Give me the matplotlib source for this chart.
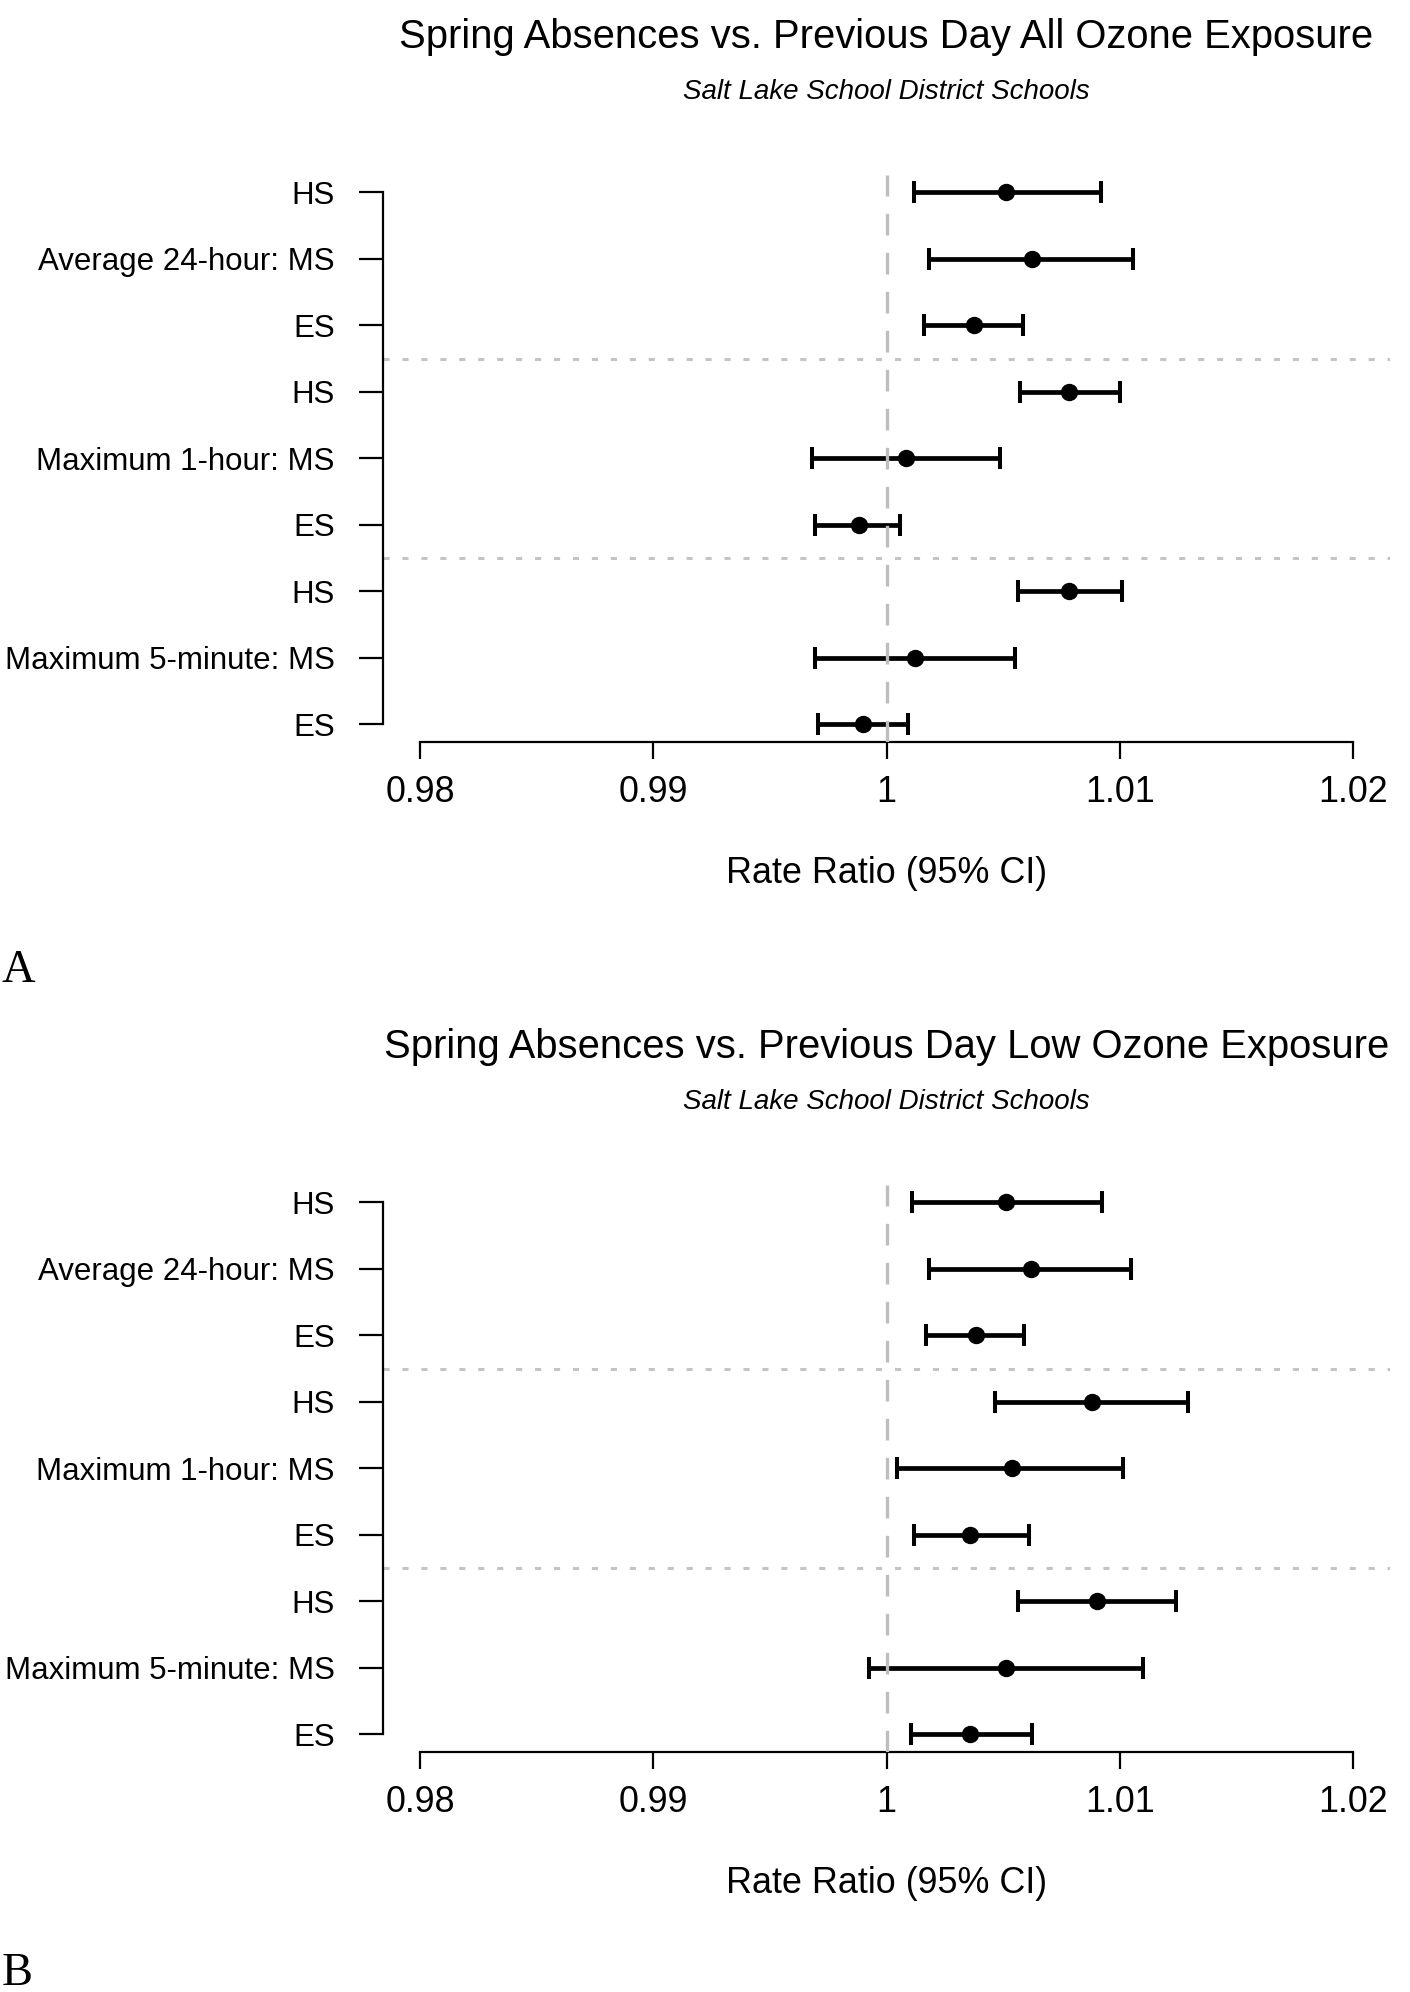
import matplotlib
matplotlib.use("Agg")
import matplotlib.pyplot as plt
import numpy as np

plt.rcParams['font.family'] = ['Liberation Sans', 'DejaVu Sans']

# ---------------- data ----------------
row_labels = ["HS", "Average 24-hour: MS", "ES",
              "HS", "Maximum 1-hour: MS", "ES",
              "HS", "Maximum 5-minute: MS", "ES"]
x_ticks = [0.98, 0.99, 1.00, 1.01, 1.02]
x_tick_labels = ["0.98", "0.99", "1", "1.01", "1.02"]

titles = ["Spring Absences vs. Previous Day All Ozone Exposure",
          "Spring Absences vs. Previous Day Low Ozone Exposure"]
subtitle = "Salt Lake School District Schools"
x_label = "Rate Ratio (95% CI)"
panel_letters = ["A", "B"]

# Panel A: all ozone exposure
rr_all = [1.00512, 1.00622, 1.00375, 1.00784, 1.00085, 0.99880, 1.00784, 1.00124, 0.99900]
lo_all = [1.00116, 1.00181, 1.00162, 1.00571, 0.99680, 0.99695, 1.00564, 0.99695, 0.99707]
hi_all = [1.00919, 1.01058, 1.00587, 1.01000, 1.00486, 1.00058, 1.01008, 1.00552, 1.00093]

# Panel B: low ozone exposure
rr_low = [1.00514, 1.00618, 1.00382, 1.00880, 1.00537, 1.00359, 1.00903, 1.00514, 1.00359]
lo_low = [1.00108, 1.00181, 1.00170, 1.00467, 1.00046, 1.00116, 1.00564, 0.99927, 1.00104]
hi_low = [1.00923, 1.01050, 1.00591, 1.01293, 1.01015, 1.00610, 1.01243, 1.01100, 1.00625]

# ---------------- layout ----------------
W, H = 1410, 1992
fig = plt.figure(figsize=(W / 100, H / 100), dpi=100)
fig.patch.set_facecolor("white")

def fx(px):
    return px / W

def fy(py):
    return 1 - py / H

AX_LEFT, AX_RIGHT = 382.7, 1390.3
AX_TOP, AX_BOTTOM = 175.0, 741.7
ROW_TOP, ROW_BOTTOM = 192.3, 724.3
n = len(row_labels)
unit = (ROW_BOTTOM - ROW_TOP) / (n - 1)
ylo = 1 - (AX_BOTTOM - ROW_BOTTOM) / unit
yhi = n + (ROW_TOP - AX_TOP) / unit
xmin, xmax = 0.9784, 1.0216
xc = (AX_LEFT + AX_RIGHT) / 2

def draw_panel(off, title, rr, lo, hi, letter, letter_y):
    ax = fig.add_axes([fx(AX_LEFT), fy(AX_BOTTOM + off),
                       (AX_RIGHT - AX_LEFT) / W, (AX_BOTTOM - AX_TOP) / H])
    rr = np.array(rr); lo = np.array(lo); hi = np.array(hi)
    y = np.arange(n, 0, -1)
    ax.errorbar(rr, y, xerr=[rr - lo, hi - rr], fmt='o', color='black',
                ms=11.5, elinewidth=3.4, capsize=7.8, capthick=2.9, zorder=3)
    ax.axvline(1.0, color='#BEBEBE', lw=2.4, linestyle=(0, (6.5, 5.2)), zorder=4)
    for yy in (6.5, 3.5):
        ax.axhline(yy, color='#C4C4C4', lw=2.2, linestyle=(0, (2.0, 4.2)),
                   zorder=2)
    ax.set_xlim(xmin, xmax)
    ax.set_ylim(ylo, yhi)
    ax.set_facecolor('none')
    for s in ('top', 'right'):
        ax.spines[s].set_visible(False)
    ax.spines['left'].set_bounds(1, n)
    ax.spines['bottom'].set_bounds(x_ticks[0], x_ticks[-1])
    for s in ('left', 'bottom'):
        ax.spines[s].set_linewidth(1.6)
    ax.set_yticks(y)
    ax.set_yticklabels(row_labels, fontsize=22.5)
    ax.set_xticks(x_ticks)
    ax.set_xticklabels(x_tick_labels, fontsize=25.8)
    ax.tick_params(axis='y', length=17.3, width=1.6, pad=17.3)
    ax.tick_params(axis='x', length=12.2, width=1.6, pad=12.0)

    fig.text(fx(xc), fy(37 + off), title, fontsize=28.8, ha='center', va='center')
    fig.text(fx(xc), fy(92 + off), subtitle, fontsize=20, style='italic',
             ha='center', va='center')
    fig.text(fx(xc), fy(873 + off), x_label, fontsize=25.8, ha='center', va='center')
    fig.text(fx(2), fy(letter_y), letter, fontsize=33.5,
             family=['Liberation Serif', 'DejaVu Serif'], ha='left', va='baseline')
    return ax

draw_panel(0, titles[0], rr_all, lo_all, hi_all, panel_letters[0], 982)
draw_panel(1010, titles[1], rr_low, lo_low, hi_low, panel_letters[1], 1985)

fig.savefig("out.png", dpi=100, facecolor="white")
